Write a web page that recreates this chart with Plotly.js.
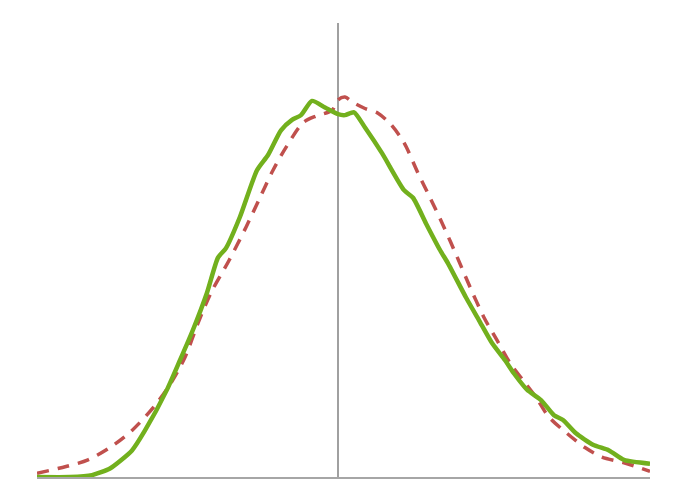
<!DOCTYPE html>
<html>
<head>
<meta charset="utf-8">
<script src="https://cdn.plot.ly/plotly-3.0.1.min.js"></script>
<style>html,body{margin:0;padding:0;background:#fff;}#chart{width:688px;height:499px;}</style>
</head>
<body>
<div id="chart"></div>
<script>
const greenX = [-3.01,-2.68,-2.46,-2.28,-2.06,-1.93,-1.71,-1.58,-1.45,-1.31,-1.20,-1.12,-0.98,-0.81,-0.70,-0.57,-0.46,-0.37,-0.26,-0.13,0.00,0.07,0.16,0.27,0.44,0.66,0.75,0.88,1.02,1.10,1.28,1.41,1.54,1.67,1.76,1.89,2.03,2.16,2.25,2.38,2.55,2.71,2.86,3.12];
const greenY = [0,0,0.002,0.009,0.028,0.049,0.092,0.123,0.155,0.194,0.231,0.241,0.274,0.323,0.339,0.365,0.376,0.381,0.396,0.389,0.382,0.381,0.384,0.368,0.341,0.302,0.294,0.267,0.239,0.225,0.189,0.165,0.141,0.123,0.109,0.092,0.081,0.065,0.060,0.046,0.034,0.028,0.018,0.014];
const redX = [-3.01,-2.72,-2.50,-2.28,-2.06,-1.84,-1.67,-1.53,-1.40,-1.27,-1.09,-0.92,-0.79,-0.65,-0.52,-0.35,-0.22,-0.06,0.00,0.07,0.14,0.27,0.40,0.53,0.66,0.80,0.93,1.06,1.19,1.32,1.46,1.59,1.72,1.85,1.98,2.11,2.29,2.47,2.64,2.86,3.12];
const redY = [0.004,0.011,0.018,0.031,0.049,0.074,0.099,0.126,0.162,0.194,0.228,0.263,0.292,0.323,0.347,0.373,0.380,0.386,0.397,0.400,0.395,0.388,0.383,0.371,0.352,0.320,0.292,0.263,0.232,0.200,0.168,0.144,0.120,0.102,0.084,0.063,0.046,0.031,0.021,0.015,0.006];

const traces = [
  {x: redX, y: redY, type: 'scatter', mode: 'lines', line: {color: '#c0504d', width: 3.5, dash: '12px,9px', shape: 'spline', smoothing: 0.8}, hoverinfo: 'none'},
  {x: greenX, y: greenY, type: 'scatter', mode: 'lines', line: {color: '#72b01d', width: 4.5, shape: 'spline', smoothing: 0.6}, hoverinfo: 'none'}
];
const layout = {
  width: 688, height: 499,
  margin: {l: 37, r: 38, t: 23, b: 22},
  paper_bgcolor: '#ffffff', plot_bgcolor: '#ffffff',
  showlegend: false,
  xaxis: {range: [-3.01, 3.12], showgrid: false, zeroline: false, showticklabels: false, ticks: '', showline: true, linecolor: '#a6a6a6', linewidth: 1.5},
  yaxis: {range: [0, 0.478], showgrid: false, zeroline: false, showticklabels: false, ticks: '', showline: false},
  shapes: [{type: 'line', xref: 'x', yref: 'paper', x0: 0, x1: 0, y0: 0, y1: 1, line: {color: '#808080', width: 1.5}, layer: 'below'}]
};
Plotly.newPlot('chart', traces, layout, {displayModeBar: false, staticPlot: true});
</script>
</body>
</html>
